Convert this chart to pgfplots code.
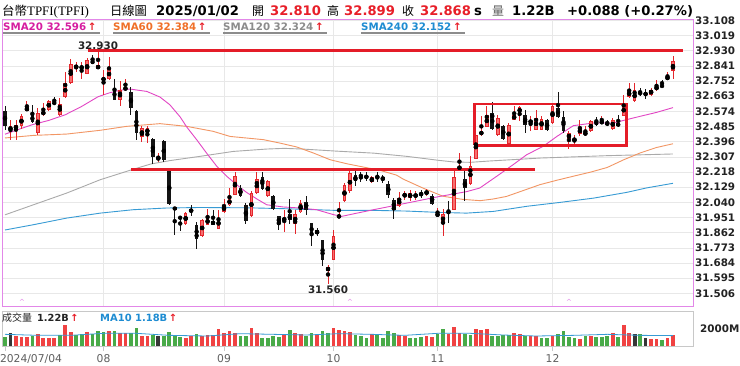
\documentclass[border=0pt]{standalone}
\usepackage{pgfplots}
\pgfplotsset{compat=1.18}
\usepackage{pgfplotstable}
\usepackage{fontspec}
\setmainfont{DejaVu Sans}
\newfontfamily\cjk{Noto Sans CJK TC}
\newfontfamily\serifl{Liberation Serif}
\definecolor{cUp}{RGB}{228,38,44}
\definecolor{cUpFill}{RGB}{246,112,112}
\definecolor{cDn}{RGB}{20,20,20}
\definecolor{vRed}{RGB}{240,66,66}
\definecolor{vGreen}{RGB}{72,170,72}
\definecolor{vBlack}{RGB}{55,55,55}
\definecolor{s20}{RGB}{226,70,196}
\definecolor{t20}{RGB}{214,30,160}
\definecolor{s60}{RGB}{242,150,100}
\definecolor{t60}{RGB}{240,112,40}
\definecolor{s120}{RGB}{170,170,170}
\definecolor{t120}{RGB}{140,140,140}
\definecolor{s240}{RGB}{55,155,212}
\definecolor{t240}{RGB}{30,140,210}
\definecolor{frameP}{RGB}{226,135,232}
\definecolor{frameG}{RGB}{200,200,200}
\definecolor{gridc}{RGB}{232,232,232}
\definecolor{annot}{RGB}{228,28,40}
\definecolor{hdred}{RGB}{232,30,40}
\definecolor{txtd}{RGB}{35,35,35}
\definecolor{txtg}{RGB}{95,95,95}
\newcommand\TickFont{\fontsize{10.4}{12}\selectfont\bfseries}
\newcommand\LegFont{\fontsize{10.3}{12}\selectfont\bfseries}
\newcommand\HdFont{\fontsize{13.2}{15}\selectfont\bfseries}

\pgfplotstableread{
i o h l c k
0 32.578 32.603 32.466 32.490 0
1 32.457 32.521 32.408 32.490 1
2 32.466 32.525 32.408 32.496 1
3 32.490 32.560 32.470 32.545 1
4 32.578 32.633 32.574 32.597 1
5 32.554 32.613 32.506 32.511 0
6 32.447 32.594 32.433 32.564 1
7 32.551 32.623 32.545 32.578 1
8 32.584 32.642 32.578 32.637 1
9 32.625 32.656 32.617 32.621 0
10 32.554 32.652 32.549 32.617 1
11 32.656 32.805 32.652 32.740 1
12 32.740 32.883 32.736 32.852 1
13 32.830 32.862 32.803 32.842 1
14 32.826 32.862 32.764 32.838 1
15 32.795 32.887 32.791 32.873 1
16 32.873 32.907 32.850 32.854 0
17 32.824 32.930 32.822 32.844 1
18 32.756 32.819 32.668 32.770 1
19 32.764 32.893 32.760 32.822 1
20 32.705 32.764 32.639 32.642 0
21 32.642 32.750 32.607 32.697 1
22 32.705 32.764 32.697 32.711 1
23 32.686 32.715 32.554 32.594 0
24 32.578 32.580 32.404 32.447 0
25 32.423 32.490 32.394 32.476 1
26 32.443 32.490 32.388 32.476 1
27 32.414 32.416 32.267 32.306 0
28 32.286 32.330 32.275 32.310 1
29 32.398 32.408 32.275 32.286 0
30 32.222 32.224 32.022 32.032 0
31 32.011 32.013 31.846 31.997 0
32 31.952 31.958 31.874 31.948 0
33 31.915 31.981 31.909 31.977 1
34 32.001 32.026 31.958 31.981 0
35 31.909 31.923 31.766 31.827 0
36 31.841 31.944 31.837 31.938 1
37 31.905 32.003 31.905 31.952 1
38 31.932 31.993 31.907 31.909 0
39 31.886 31.997 31.884 31.948 1
40 31.981 32.060 31.977 32.026 1
41 32.022 32.124 32.017 32.065 1
42 32.085 32.216 32.081 32.197 1
43 32.124 32.140 32.069 32.075 0
44 32.026 32.036 31.913 31.932 0
45 31.958 32.105 31.954 32.095 1
46 32.095 32.216 32.091 32.177 1
47 32.189 32.216 32.114 32.118 0
48 32.075 32.173 32.071 32.163 1
49 32.079 32.081 31.993 32.001 0
50 31.958 31.960 31.876 31.913 0
51 31.934 31.997 31.864 31.948 1
52 31.972 32.060 31.915 31.934 0
53 31.913 31.997 31.856 31.972 1
54 31.981 32.056 31.977 32.036 1
55 32.042 32.075 31.968 31.997 0
56 31.919 31.921 31.786 31.846 0
57 31.876 31.889 31.841 31.856 0
58 31.817 31.819 31.664 31.700 0
59 31.639 31.674 31.560 31.659 1
60 31.704 31.880 31.702 31.844 1
61 31.948 32.042 31.946 31.968 1
62 32.046 32.153 32.042 32.140 1
63 32.105 32.222 32.095 32.212 1
64 32.202 32.222 32.134 32.163 0
65 32.198 32.216 32.157 32.193 0
66 32.198 32.216 32.163 32.183 0
67 32.157 32.197 32.153 32.187 1
68 32.197 32.216 32.157 32.183 0
69 32.189 32.202 32.153 32.173 0
70 32.150 32.163 32.065 32.085 0
71 32.056 32.065 31.944 31.997 0
72 32.017 32.099 32.013 32.065 1
73 32.071 32.105 32.056 32.095 1
74 32.065 32.114 32.046 32.095 1
75 32.075 32.105 32.056 32.085 1
76 32.091 32.114 32.065 32.085 0
77 32.091 32.118 32.075 32.105 1
78 32.079 32.091 32.022 32.032 0
79 31.958 32.007 31.954 31.977 1
80 31.913 32.001 31.841 31.974 1
81 31.993 32.046 31.919 31.981 0
82 31.997 32.222 31.993 32.187 1
83 32.236 32.330 32.228 32.251 1
84 32.177 32.241 32.046 32.124 0
85 32.150 32.310 32.144 32.255 1
86 32.296 32.466 32.294 32.433 1
87 32.437 32.545 32.427 32.457 1
88 32.482 32.603 32.480 32.554 1
89 32.564 32.627 32.466 32.470 0
90 32.437 32.554 32.427 32.535 1
91 32.490 32.496 32.408 32.412 0
92 32.384 32.506 32.380 32.496 1
93 32.525 32.603 32.521 32.554 1
94 32.564 32.603 32.515 32.597 1
95 32.554 32.584 32.447 32.496 0
96 32.509 32.545 32.457 32.519 1
97 32.466 32.584 32.463 32.535 1
98 32.466 32.545 32.463 32.531 1
99 32.521 32.529 32.457 32.463 0
100 32.506 32.623 32.502 32.603 1
101 32.594 32.686 32.535 32.541 0
102 32.541 32.574 32.447 32.457 0
103 32.412 32.457 32.355 32.447 1
104 32.402 32.437 32.369 32.414 1
105 32.441 32.525 32.427 32.476 1
106 32.437 32.486 32.427 32.451 1
107 32.457 32.525 32.451 32.515 1
108 32.515 32.541 32.490 32.496 0
109 32.506 32.545 32.502 32.515 1
110 32.506 32.525 32.486 32.496 0
111 32.470 32.535 32.466 32.525 1
112 32.506 32.554 32.482 32.486 0
113 32.549 32.672 32.545 32.613 1
114 32.658 32.740 32.652 32.697 1
115 32.633 32.740 32.627 32.697 1
116 32.682 32.711 32.662 32.678 0
117 32.678 32.705 32.646 32.674 0
118 32.672 32.711 32.666 32.701 1
119 32.697 32.756 32.691 32.725 1
120 32.725 32.760 32.719 32.721 0
121 32.760 32.803 32.756 32.780 1
122 32.810 32.899 32.765 32.868 1
}\candles

\pgfplotstableread{
i v k
0 1061 2
1 1440 0
2 1137 1
3 1061 1
4 1061 1
5 1137 2
6 1402 1
7 948 1
8 948 1
9 948 1
10 1213 2
11 2350 1
12 1592 1
13 1213 2
14 1327 2
15 1630 1
16 1327 2
17 1706 2
18 1592 2
19 1706 1
20 1706 2
21 1516 1
22 1440 1
23 1440 2
24 2009 2
25 1137 1
26 1137 1
27 1213 2
28 1137 0
29 1137 2
30 1592 2
31 1213 2
32 1023 2
33 948 1
34 1137 1
35 1402 2
36 1137 1
37 1213 1
38 1213 1
39 1895 1
40 1516 1
41 1706 1
42 1516 1
43 1137 2
44 1137 2
45 2009 1
46 1516 1
47 872 2
48 948 2
49 1137 2
50 1061 2
51 1402 1
52 1819 2
53 1440 1
54 1327 1
55 1137 2
56 1440 2
57 1251 1
58 1706 2
59 1440 2
60 2009 1
61 1781 1
62 1706 1
63 1630 1
64 1213 2
65 1137 2
66 872 2
67 1327 1
68 1213 2
69 948 2
70 1706 2
71 1516 2
72 1213 1
73 1137 1
74 872 2
75 872 2
76 1023 2
77 1137 1
78 1023 1
79 1327 2
80 1971 2
81 1327 1
82 2198 1
83 1440 1
84 1327 2
85 1213 2
86 1895 1
87 1819 1
88 1895 1
89 1137 2
90 1137 2
91 1213 2
92 1213 2
93 1440 1
94 1327 1
95 1137 2
96 1137 1
97 1137 1
98 948 2
99 948 2
100 1137 1
101 1402 2
102 1706 2
103 1023 2
104 948 2
105 834 1
106 1137 2
107 1137 1
108 1023 2
109 1023 2
110 1137 2
111 1440 1
112 1061 2
113 2388 1
114 1516 1
115 1402 0
116 1327 2
117 872 0
118 834 1
119 758 1
120 682 2
121 948 1
122 1220 1
}\vol

\pgfplotstableread{
x y
0 32.440
2 32.463
5 32.496
8 32.521
11 32.554
14 32.603
17 32.660
19 32.682
21 32.698
22.8 32.705
25.9 32.691
28.3 32.658
30.1 32.613
32.0 32.541
33.2 32.482
35.0 32.408
36.8 32.330
38.7 32.251
40.5 32.193
42.3 32.144
44.1 32.099
46.0 32.060
47.8 32.026
50.8 32.013
53.9 32.007
56.9 31.997
60.0 31.968
61.5 31.958
64 31.975
67.3 31.997
73.4 32.036
79.4 32.075
84.3 32.103
86.7 32.124
89.8 32.193
92.8 32.261
95.3 32.320
98.3 32.369
100.8 32.427
103.8 32.490
107.5 32.506
111.1 32.506
113.5 32.525
116.0 32.545
119.0 32.568
122 32.596
}\smaA

\pgfplotstableread{
x y
0 32.418
5.2 32.433
11.3 32.441
17.4 32.463
22.2 32.486
28.3 32.502
33.2 32.486
38 32.457
41.1 32.427
47.2 32.408
50.2 32.388
53.3 32.365
56.3 32.330
59.4 32.290
62.4 32.267
65.5 32.247
68.5 32.228
71.5 32.200
72.7 32.177
76.4 32.123
80 32.076
83.5 32.058
86.8 32.050
89.2 32.060
91.6 32.075
94.7 32.110
97.7 32.144
100.8 32.170
104 32.195
107 32.218
110 32.245
113 32.290
116 32.330
119 32.362
122 32.384
}\smaB

\pgfplotstableread{
x y
0 31.967
5.2 32.026
11.3 32.095
17.4 32.173
23.2 32.232
26.6 32.265
30.3 32.286
35.6 32.310
41.7 32.339
47.8 32.353
51 32.357
54.3 32.353
60.4 32.341
67.3 32.329
73.4 32.310
79.4 32.286
82 32.277
85 32.275
88.6 32.283
97.7 32.300
109.9 32.314
122 32.324
}\smaC

\pgfplotstableread{
x y
0 31.878
5.2 31.909
11.3 31.948
17.4 31.977
23.4 31.997
29.5 32.007
35.6 32.010
44.7 32.008
51 32.003
60.4 31.993
67.3 31.993
73.4 31.989
79.4 31.981
84.3 31.977
89.2 31.987
95.3 32.017
101.4 32.040
107.5 32.065
113.6 32.099
117.2 32.125
122 32.152
}\smaD

\pgfplotstableread{
x y
0 1327
6 1213
12 1213
18 1440
24 1440
30 1213
37 1137
43 1402
49 1327
55 1251
61 1402
67 1327
73 1213
79 1440
85 1440
91 1251
97 1137
104 1213
110 1327
116 1213
122 1180
}\maten

\begin{document}
\begin{tikzpicture}[x=1bp,y=1bp]
\useasboundingbox (0,0) rectangle (740,365);
\fill[white] (0,0) rectangle (740,365);

% ---------------- price panel
\begin{axis}[
  at={(2bp,59bp)}, anchor=south west, scale only axis,
  width=691bp, height=287bp,
  xmin=-0.548, xmax=125.66, ymin=31.432, ymax=33.116,
  axis line style={frameP, line width=0.9bp},
  xtick={18,40,60,79,100}, xticklabels={},
  ytick={31.506,31.595,31.684,31.773,31.862,31.951,32.040,32.129,32.218,32.307,32.396,32.485,32.574,32.663,32.752,32.841,32.930,33.019,33.108},
  yticklabels={31.506,31.595,31.684,31.773,31.862,31.951,32.040,32.129,32.218,32.307,32.396,32.485,32.574,32.663,32.752,32.841,32.930,33.019,33.108},
  yticklabel pos=right,
  yticklabel style={font=\TickFont, text=txtd, anchor=west, inner sep=0pt, xshift=2bp},
  tick style={draw=none},
  major tick length=0pt,
  xmajorgrids, ymajorgrids,
  grid style={gridc, line width=0.7bp},
]
% moving averages
\addplot[s120, line width=0.9bp, mark=none] table[x=x,y=y]{\smaC};
\addplot[s240, line width=0.9bp, mark=none] table[x=x,y=y]{\smaD};
\addplot[s60, line width=0.9bp, mark=none] table[x=x,y=y]{\smaB};
\addplot[s20, line width=0.9bp, mark=none] table[x=x,y=y]{\smaA};

% wicks
\addplot[only marks, mark=none, restrict expr to domain={\thisrow{k}}{0.5:1.5},
  error bars/.cd, y dir=both, y explicit, error mark=none,
  error bar style={line width=0.9bp, cUp}]
  table[x=i, y expr={(\thisrow{h}+\thisrow{l})/2}, y error expr={(\thisrow{h}-\thisrow{l})/2}]{\candles};
\addplot[only marks, mark=none, restrict expr to domain={\thisrow{k}}{-0.5:0.5},
  error bars/.cd, y dir=both, y explicit, error mark=none,
  error bar style={line width=0.9bp, cDn}]
  table[x=i, y expr={(\thisrow{h}+\thisrow{l})/2}, y error expr={(\thisrow{h}-\thisrow{l})/2}]{\candles};
% bodies
\addplot[only marks, mark=none, restrict expr to domain={\thisrow{k}}{0.5:1.5},
  error bars/.cd, y dir=both, y explicit, error mark=none,
  error bar style={line width=3.6bp, cUp}]
  table[x=i, y expr={(\thisrow{o}+\thisrow{c})/2}, y error expr={max(abs(\thisrow{o}-\thisrow{c})/2,0.0025)}]{\candles};
\addplot[only marks, mark=none, restrict expr to domain={\thisrow{k}}{0.5:1.5},
  error bars/.cd, y dir=both, y explicit, error mark=none,
  error bar style={line width=1.6bp, cUpFill}]
  table[x=i, y expr={(\thisrow{o}+\thisrow{c})/2}, y error expr={max(abs(\thisrow{o}-\thisrow{c})/2-0.0055,0)}]{\candles};
\addplot[only marks, mark=none, restrict expr to domain={\thisrow{k}}{-0.5:0.5},
  error bars/.cd, y dir=both, y explicit, error mark=none,
  error bar style={line width=3.6bp, cDn}]
  table[x=i, y expr={(\thisrow{o}+\thisrow{c})/2}, y error expr={max(abs(\thisrow{o}-\thisrow{c})/2,0.0025)}]{\candles};

% annotations: resistance / support lines and box
\addplot[annot, line width=3.2bp, mark=none] coordinates {(15.2,32.930) (123.8,32.930)};
\addplot[annot, line width=3.6bp, mark=none] coordinates {(23.0,32.232) (96.8,32.232)};
\addplot[annot, line width=2.8bp, mark=none] coordinates {(85.7,32.376) (113.5,32.376) (113.5,32.617) (85.7,32.617) (85.7,32.376)};
\end{axis}

% ---------------- volume panel
\begin{axis}[
  at={(2bp,19bp)}, anchor=south west, scale only axis,
  width=691bp, height=35bp,
  xmin=-0.548, xmax=125.66, ymin=0, ymax=3980,
  axis line style={frameG, line width=0.8bp},
  xtick={0,18,40,60,79,100},
  xticklabels={\makebox[0pt][l]{\hspace{-5bp}2024/07/04},08,09,10,11,12},
  xtick pos=left, tick align=outside,
  xtick style={draw=frameG, line width=0.8bp},
  major tick length=5bp,
  xticklabel style={font=\fontsize{10.8}{12}\selectfont, text=txtg, inner sep=0pt, yshift=-3.5bp},
  ytick={2000}, yticklabels={2000M},
  yticklabel pos=right, ytick style={draw=none},
  yticklabel style={font=\TickFont, text=txtd, anchor=west, inner sep=0pt, xshift=2bp},
]
\addplot[ycomb, line width=3.7bp, vRed, restrict expr to domain={\thisrow{k}}{0.5:1.5}] table[x=i,y=v]{\vol};
\addplot[ycomb, line width=3.7bp, vGreen, restrict expr to domain={\thisrow{k}}{1.5:2.5}] table[x=i,y=v]{\vol};
\addplot[ycomb, line width=3.7bp, vBlack, restrict expr to domain={\thisrow{k}}{-0.5:0.5}] table[x=i,y=v]{\vol};
\addplot[s240, line width=0.8bp, mark=none] table[x=x,y=y]{\maten};
\end{axis}

% ---------------- header
\node[anchor=base west, inner sep=0] at (2,350) {{\cjk\fontsize{12.5}{14}\selectfont 台幣}{\serifl\fontsize{13}{15}\selectfont TPFI(TPFI)}};
\node[anchor=base west, inner sep=0] at (110,350) {\cjk\fontsize{12.3}{14}\selectfont 日線圖};
\node[anchor=base west, inner sep=0] at (156,350) {\HdFont 2025/01/02};
\node[anchor=base west, inner sep=0] at (252,350) {\cjk\fontsize{12}{14}\selectfont 開};
\node[anchor=base west, inner sep=0, text=hdred] at (270,350) {\HdFont 32.810};
\node[anchor=base west, inner sep=0] at (327,350) {\cjk\fontsize{12}{14}\selectfont 高};
\node[anchor=base west, inner sep=0, text=hdred] at (344,350) {\HdFont 32.899};
\node[anchor=base west, inner sep=0] at (402,350) {\cjk\fontsize{12}{14}\selectfont 收};
\node[anchor=base west, inner sep=0, text=hdred] at (420,350) {\HdFont 32.868};
\node[anchor=base west, inner sep=0] at (474,350) {\HdFont s};
\node[anchor=base west, inner sep=0, text=txtg] at (492,350) {\cjk\fontsize{12}{14}\selectfont 量};
\node[anchor=base west, inner sep=0] at (512,350) {\HdFont 1.22B};
\node[anchor=base west, inner sep=0] at (567,350) {\HdFont +0.088 (+0.27\%)};

% ---------------- moving-average legend
\node[anchor=base west, inner sep=0, text=t20] (l1) at (3,334.3) {\LegFont SMA20 32.596\,\textcolor{hdred}{↑}};
\node[anchor=base west, inner sep=0, text=t60] (l2) at (113,334.3) {\LegFont SMA60 32.384\,\textcolor{hdred}{↑}};
\node[anchor=base west, inner sep=0, text=t120] (l3) at (223,334.3) {\LegFont SMA120 32.324\,\textcolor{hdred}{↑}};
\node[anchor=base west, inner sep=0, text=t240] (l4) at (361,334.3) {\LegFont SMA240 32.152\,\textcolor{hdred}{↑}};
\foreach \n in {l1,l2,l3,l4}{
  \draw[t120, line width=1.3bp] ([yshift=-2.4bp]\n.base west) -- ([xshift=3bp,yshift=-2.4bp]\n.base east);
}

% ---------------- price labels
\node[anchor=base, inner sep=0, text=txtd] at (98,316) {\TickFont 32.930};
\node[anchor=base, inner sep=0, text=txtd] at (328,72) {\TickFont 31.560};

% ---------------- small event carets along the bottom of the price panel
\foreach \xx in {22,350,569}{
  \node[anchor=base, inner sep=0, text=frameP] at (\xx,60.5) {\fontsize{7}{8}\selectfont\textasciicircum};
}

% ---------------- volume legend
\node[anchor=base west, inner sep=0, text=txtd] at (2,44) {\cjk\fontsize{10}{12}\selectfont 成交量};
\node[anchor=base west, inner sep=0, text=txtd] at (37,44) {\fontsize{9.8}{12}\selectfont\bfseries 1.22B\,\textcolor{hdred}{↑}};
\node[anchor=base west, inner sep=0, text=t240] at (100,44) {\fontsize{10}{12}\selectfont\bfseries MA10 1.18B\,\textcolor{hdred}{↑}};
\end{tikzpicture}
\end{document}
